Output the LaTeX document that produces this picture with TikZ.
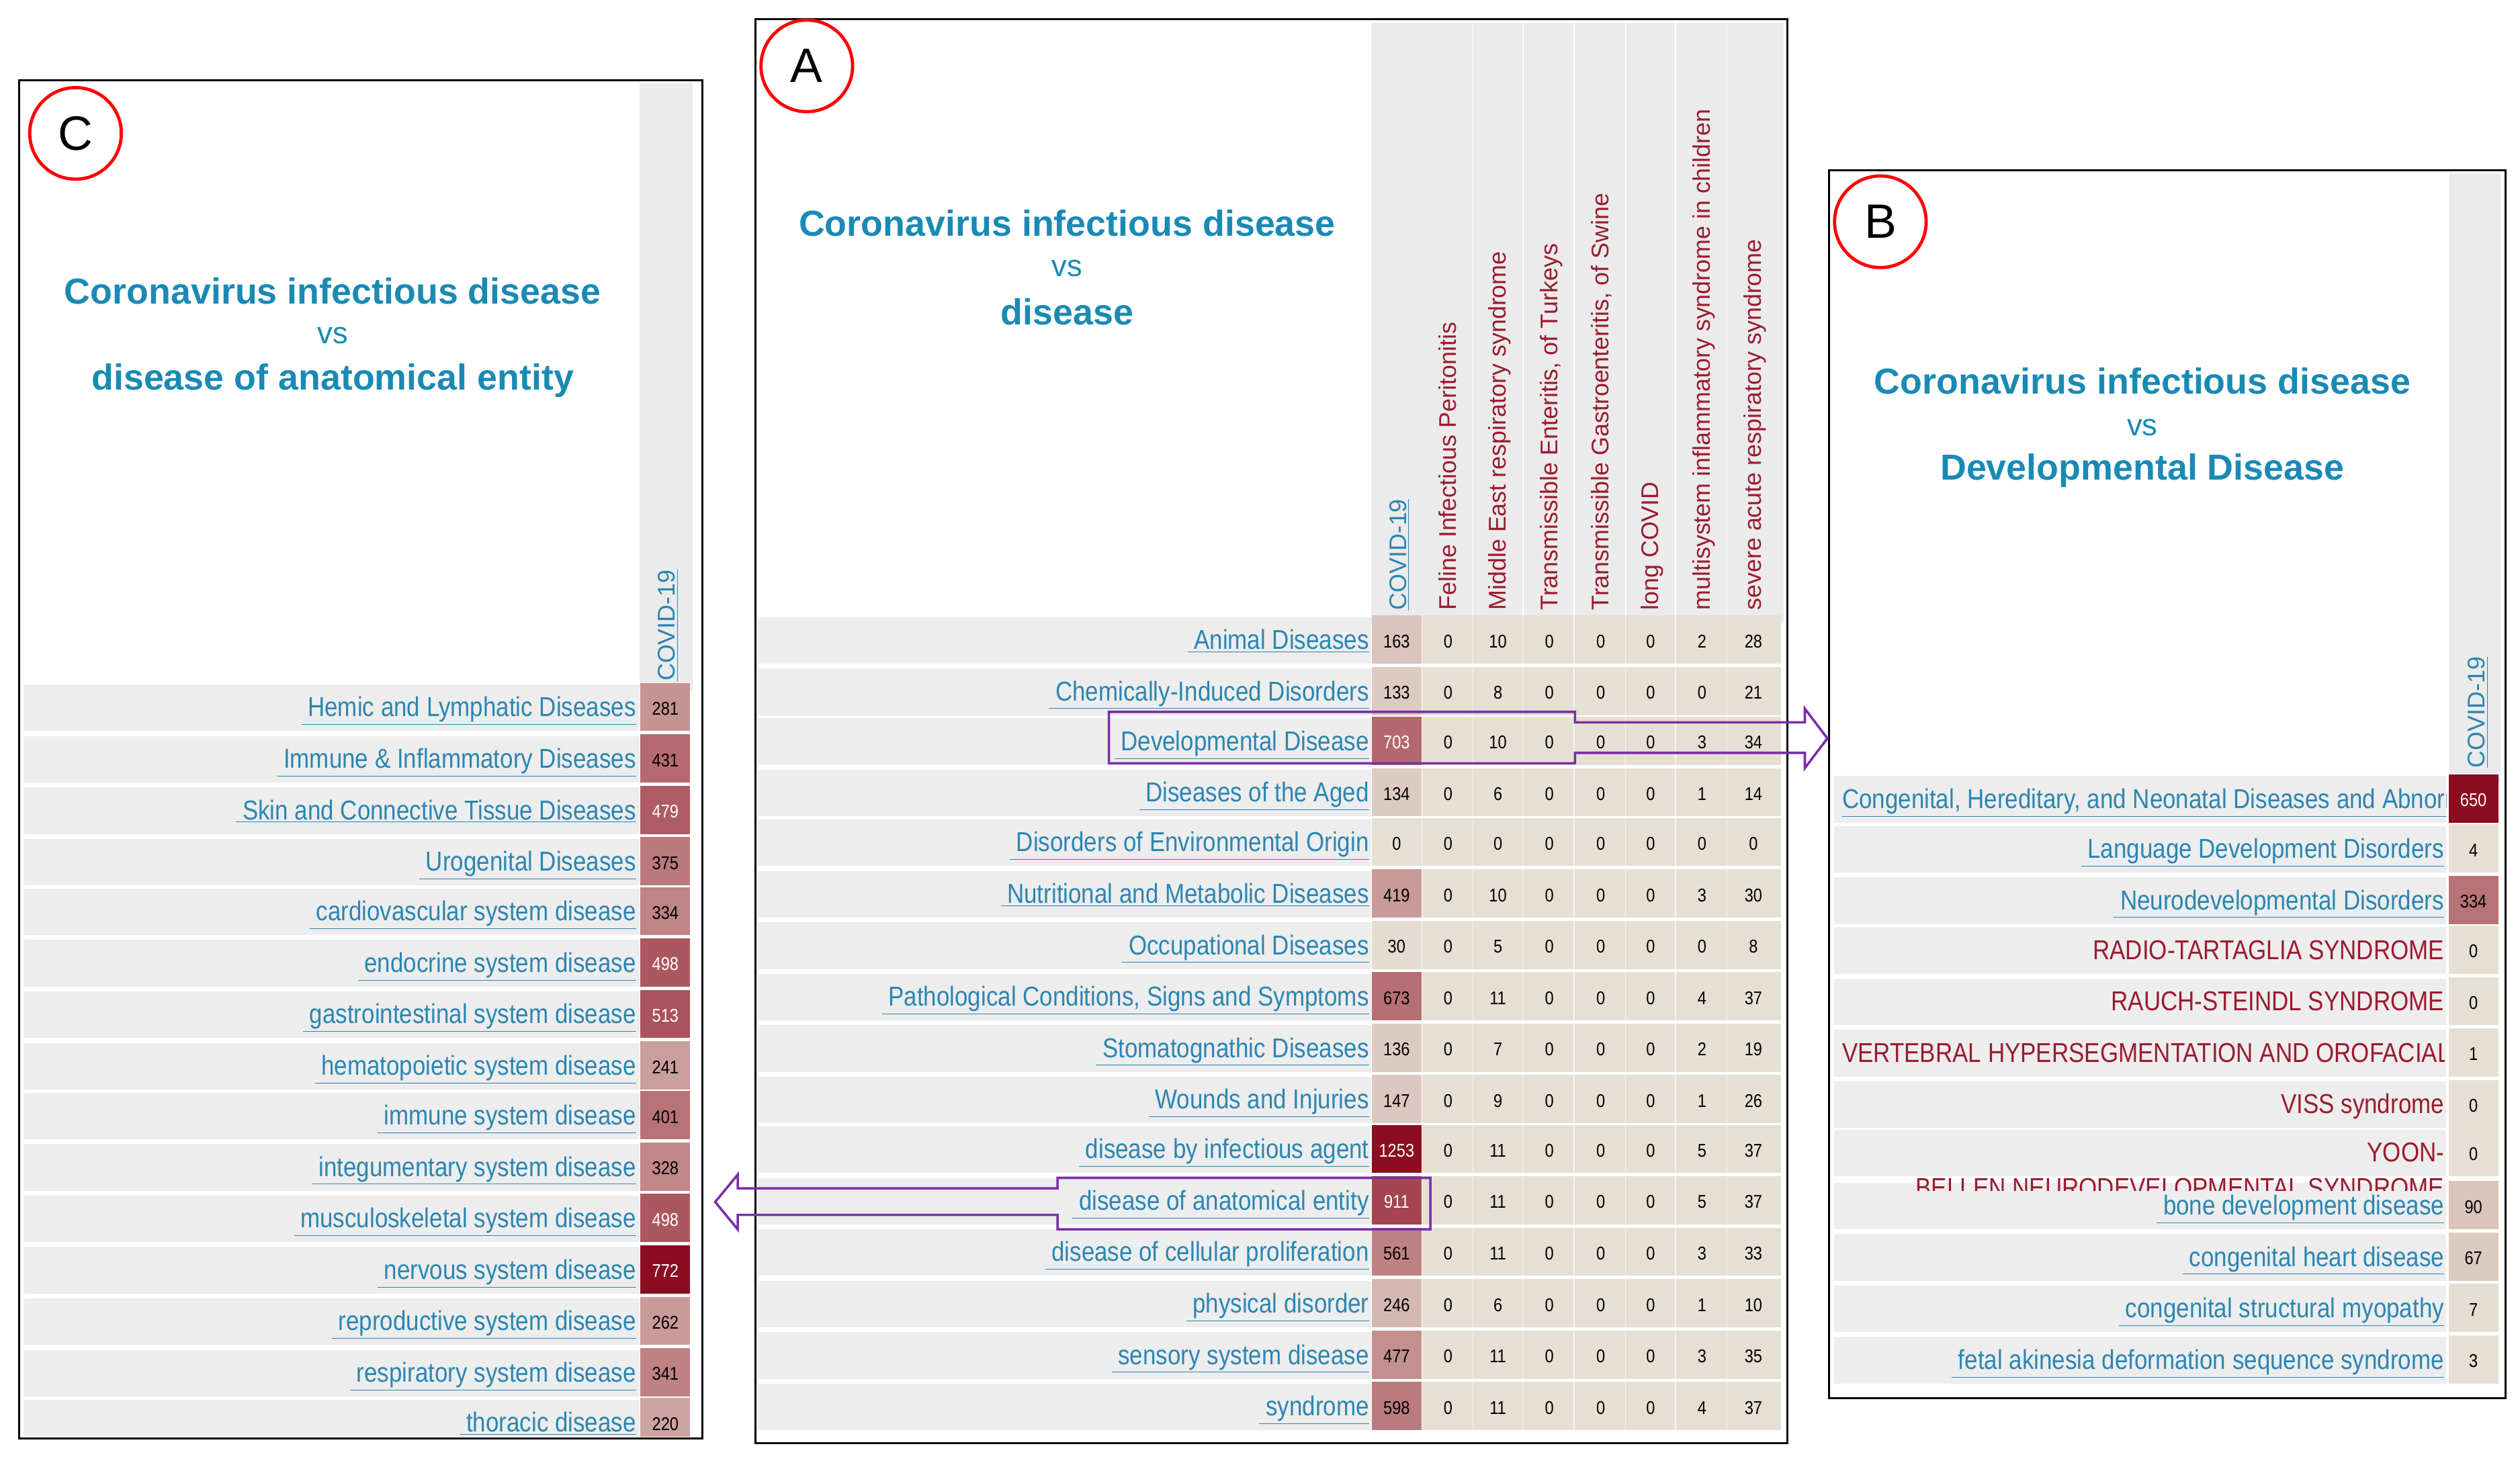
\documentclass[tikz,border=0pt]{standalone}
\usepackage{fontspec}
\setmainfont{Liberation Sans}
\newfontfamily\narrowf{Liberation Sans}[FakeStretch=0.86]
\definecolor{cbeige}{HTML}{E6E0D4}
\definecolor{cred}{HTML}{8B0A1E}
\definecolor{rowgray}{HTML}{EDEDED}
\definecolor{headgray}{HTML}{EBEBEB}
\definecolor{clink}{HTML}{2B86B2}
\definecolor{ctitle}{HTML}{1A8AB5}
\definecolor{dred}{HTML}{9B1B30}
\definecolor{cpurp}{HTML}{7A2FA8}
\newcommand\vcell[4]{%
  \pgfmathtruncatemacro\pct{min(100,(100/#4)*#3)}%
  \pgfmathtruncatemacro\wt{\pct>55?1:0}%
  \fill[cred!\pct!cbeige] (#1-15.5,#2-15) rectangle (#1+15.5,#2+15);
  \ifnum\wt=1 \node[num,text=white] at (#1,#2-2) {#3};\else\node[num] at (#1,#2-2) {#3};\fi}
\tikzset{
  num/.style={font=\narrowf\fontsize{11.5}{13}\selectfont,inner sep=0pt,anchor=base,yshift=-7pt},
  lab/.style={font=\narrowf\fontsize{17}{19}\selectfont,text=clink,anchor=base east,inner sep=0pt},
  plab/.style={font=\narrowf\fontsize{17}{19}\selectfont,text=dred,anchor=base east,inner sep=0pt},
  hdr/.style={font=\fontsize{15}{17}\selectfont,text=dred,rotate=90,anchor=base west,inner sep=0pt},
  ttl/.style={font=\bfseries\fontsize{22.5}{26}\selectfont,text=ctitle,inner sep=0pt},
  vs/.style={font=\fontsize{19}{21}\selectfont,text=ctitle,inner sep=0pt},
  frame/.style={draw=black,line width=1.2pt},
  badge/.style={circle,draw=red,line width=2pt,minimum size=57pt,font=\fontsize{30}{32}\selectfont,inner sep=0pt},
  callout/.style={draw=cpurp,line width=1.5pt,line join=miter}
}
\begin{document}
\begin{tikzpicture}[x=1pt,y=-1pt]
\useasboundingbox[fill=white] (0,0) rectangle (1568,911.3);
% ================= Panel A =================
\fill[headgray] (853,14) rectangle (1110,388);
\foreach \c/\xx in {1/901,2/932,3/964,4/996,5/1027,6/1059}{\draw[white,line width=0.8pt] (\xx+15.5,14) -- (\xx+15.5,388);}
\node[ttl] (At1) at (664,139) {Coronavirus infectious disease};
\node[vs] (Ats) at (664,167) {vs};
\node[ttl] (At2) at (664,194) {disease};
\node[hdr,text=clink] (Ah0) at (875,380) {\underline{COVID-19}};
\foreach \n/\xx/\t in {1/906/Feline Infectious Peritonitis,2/937/Middle East respiratory syndrome,3/969/{Transmissible Enteritis, of Turkeys},4/1001/{Transmissible Gastroenteritis, of Swine},5/1032/long COVID,6/1064/multisystem inflammatory syndrome in children,7/1096/severe acute respiratory syndrome}
  {\node[hdr] (Ah\n) at (\xx,380) {\t};}
\begin{scope}
\clip (472,383) rectangle (1110,896);
\foreach \i/\yy/\t/\a/\b/\c/\d/\e/\f/\g/\h in {
 1/398/Animal Diseases/163/0/10/0/0/0/2/28,
 2/430/Chemically-Induced Disorders/133/0/8/0/0/0/0/21,
 3/461/Developmental Disease/703/0/10/0/0/0/3/34,
 4/493/Diseases of the Aged/134/0/6/0/0/0/1/14,
 5/524/Disorders of Environmental Origin/0/0/0/0/0/0/0/0,
 6/556/Nutritional and Metabolic Diseases/419/0/10/0/0/0/3/30,
 7/588/Occupational Diseases/30/0/5/0/0/0/0/8,
 8/620/{Pathological Conditions, Signs and Symptoms}/673/0/11/0/0/0/4/37,
 9/652/Stomatognathic Diseases/136/0/7/0/0/0/2/19,
 10/684/Wounds and Injuries/147/0/9/0/0/0/1/26,
 11/715/disease by infectious agent/1253/0/11/0/0/0/5/37,
 12/747/disease of anatomical entity/911/0/11/0/0/0/5/37,
 13/779/disease of cellular proliferation/561/0/11/0/0/0/3/33,
 14/811/physical disorder/246/0/6/0/0/0/1/10,
 15/843/sensory system disease/477/0/11/0/0/0/3/35,
 16/875/syndrome/598/0/11/0/0/0/4/37}{
  \fill[rowgray] (472,\yy-14) rectangle (853,\yy+15);
  \fill[cbeige] (885,\yy-15) rectangle (1108,\yy+15);
  \foreach \xx in {901,932,964,996,1027,1059}{\draw[white!60!cbeige,line width=0.6pt] (\xx+15.5,\yy-15) -- (\xx+15.5,\yy+15);}
  \vcell{869}{\yy}{\a}{1253}
  \foreach \v/\xx in {\b/901,\c/932,\d/964,\e/996,\f/1027,\g/1059,\h/1091}{\node[num] at (\xx,\yy-2) {\v};}
  \node[lab] (Ar\i) at (852,\yy+6) {\underline{\ \t}};
}
\end{scope}
\draw[frame] (470,12) rectangle (1112,898);
% ================= Panel C =================
\fill[headgray] (398,52) rectangle (431,430);
\node[ttl] (Ct1) at (207,181) {Coronavirus infectious disease};
\node[vs] (Cts) at (207,209) {vs};
\node[ttl] (Ct2) at (207,237) {disease of anatomical entity};
\node[hdr,text=clink] (Ch0) at (420,424) {\underline{COVID-19}};
\begin{scope}
\clip (14,420) rectangle (436,894);
\foreach \i/\yy/\t/\a in {1/440/Hemic and Lymphatic Diseases/281,2/472/Immune \& Inflammatory Diseases/431,3/504/Skin and Connective Tissue Diseases/479,4/536/Urogenital Diseases/375,5/567/cardiovascular system disease/334,6/599/endocrine system disease/498,7/631/gastrointestinal system disease/513,8/663/hematopoietic system disease/241,9/694/immune system disease/401,10/726/integumentary system disease/328,11/758/musculoskeletal system disease/498,12/790/nervous system disease/772,13/822/reproductive system disease/262,14/854/respiratory system disease/341,15/885/thoracic disease/220}{
  \fill[rowgray] (15,\yy-14) rectangle (398,\yy+15);
  \vcell{414}{\yy}{\a}{772}
  \node[lab] (Cr\i) at (396,\yy+6) {\underline{\ \t}};
}
\end{scope}
\draw[frame] (12,50) rectangle (437,895);
% ================= Panel B =================
\fill[headgray] (1524,108) rectangle (1556,487);
\node[ttl] (Bt1) at (1333,237) {Coronavirus infectious disease};
\node[vs] (Bts) at (1333,266) {vs};
\node[ttl] (Bt2) at (1333,293) {Developmental Disease};
\node[hdr,text=clink] (Bh0) at (1546,478) {\underline{COVID-19}};
\begin{scope}
\clip (1141,108) rectangle (1556,868);
\foreach \i/\yy/\a in {1/497/650,2/528/4,3/560/334,4/591/0,5/623/0,6/655/1,7/687/0,8/717/0,9/750/90,10/782/67,11/814/7,12/846/3}{
  \fill[rowgray] (1141,\yy-14) rectangle (1522,\yy+15);
  \vcell{1539}{\yy}{\a}{650}
}
\begin{scope}
\clip (1141,480) rectangle (1522,515);
\node[lab,anchor=base west] (Br1) at (1146,503) {\underline{Congenital, Hereditary, and Neonatal Diseases and Abnormalities}};
\end{scope}
\node[lab] (Br2) at (1521,534) {\underline{\ Language Development Disorders}};
\node[lab] (Br3) at (1521,566) {\underline{\ Neurodevelopmental Disorders}};
\node[plab] (Br4) at (1521,597) {RADIO-TARTAGLIA SYNDROME};
\node[plab] (Br5) at (1521,629) {RAUCH-STEINDL SYNDROME};
\begin{scope}
\clip (1141,640) rectangle (1521,680);
\node[plab,anchor=base west] (Br6) at (1146,661) {VERTEBRAL HYPERSEGMENTATION AND OROFACIAL SYNDROME};
\end{scope}
\node[plab] (Br7) at (1521,693) {VISS syndrome};
\node[plab] (Br8) at (1521,723) {YOON-};
\begin{scope}
\clip (1141,725) rectangle (1521,741);
\node[plab] (Br8b) at (1521,745) {BELLEN NEURODEVELOPMENTAL SYNDROME};
\end{scope}
\node[lab] (Br9) at (1521,756) {\underline{\ bone development disease}};
\node[lab] (Br10) at (1521,788) {\underline{\ congenital heart disease}};
\node[lab] (Br11) at (1521,820) {\underline{\ congenital structural myopathy}};
\node[lab] (Br12) at (1521,852) {\underline{\ fetal akinesia deformation sequence syndrome}};
\end{scope}
\draw[frame] (1138,106) rectangle (1559,870);
% ================= callouts =================
\draw[callout] (690,443) -- (980,443) -- (980,449.5) -- (1123,449.5) -- (1123,441) -- (1137,459.5) -- (1123,478) -- (1123,468.5) -- (980,468.5) -- (980,475) -- (690,475) -- cycle;
\draw[callout] (890,733) -- (658,733) -- (658,739.5) -- (459,739.5) -- (459,731) -- (445,748) -- (459,765) -- (459,756) -- (658,756) -- (658,765) -- (890,765) -- cycle;
% ================= badges =================
\node[badge] (bA) at (502,41) {A};
\node[badge] (bB) at (1170,138) {B};
\node[badge] (bC) at (47,83) {C};
\end{tikzpicture}
\end{document}
